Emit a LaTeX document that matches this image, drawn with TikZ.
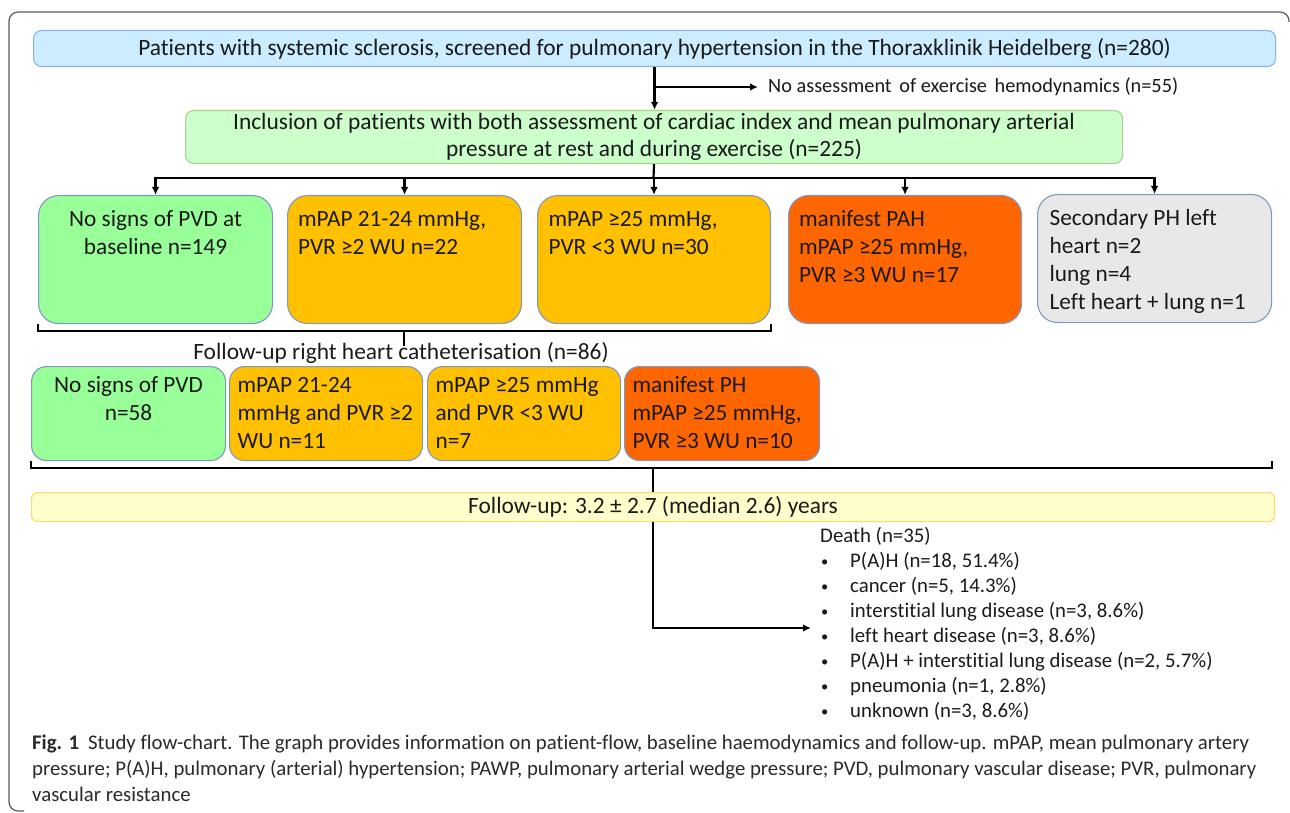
\documentclass[tikz,border=0pt]{standalone}
\usepackage{fontspec}
\setmainfont{Carlito}[Ligatures={NoCommon}]
\usetikzlibrary{arrows.meta,calc}
\definecolor{cblue}{HTML}{CCECFF}
\definecolor{cbluebd}{HTML}{8DB3E2}
\definecolor{clgreen}{HTML}{CCFFCC}
\definecolor{clgreenbd}{HTML}{A9D18E}
\definecolor{cgreen}{HTML}{99FF99}
\definecolor{camber}{HTML}{FFC000}
\definecolor{corange}{HTML}{FF6600}
\definecolor{cgray}{HTML}{E8E8E8}
\definecolor{cyel}{HTML}{FFFFCC}
\definecolor{cyelbd}{HTML}{FFD966}
\definecolor{cbd}{HTML}{7F98C4}
\definecolor{cframe}{HTML}{5A5A5A}
\definecolor{ctext}{HTML}{1A1A1A}
\definecolor{ccap}{HTML}{2A2A2A}
\newcommand{\bxt}[4]{\begin{minipage}[c][#2][t]{#1}#3\rule{0pt}{#4}\ignorespaces}
\newcommand{\bxe}{\end{minipage}}
\newcommand{\lline}[1]{\mbox{#1}\\}
\newcommand{\bul}{\hspace*{1pt}\makebox[29pt][l]{\raisebox{1pt}{\scalebox{0.7}{•}}}}
\begin{document}
\begin{tikzpicture}[x=1pt,y=-1pt,
  every node/.style={text=ctext},
  rbox/.style={draw=cbd, line width=1.1pt, inner sep=0pt, anchor=north west,
     font=\fontsize{23.3}{28}\selectfont},
  arr/.style={line width=2.2pt, -{Latex[length=8pt,width=7.5pt]}},
  conn/.style={line width=2.2pt},
  brk/.style={line width=2.6pt},
]
\useasboundingbox (0,0) rectangle (1290,813);
% frame
\draw[cframe, line width=1.2pt, rounded corners=9pt] (1289,22) -- (1289,12) -- (9,12) -- (9,811) -- (24,811);

% top boxes
\node[draw=cbluebd, fill=cblue, line width=1.1pt, rounded corners=8pt, minimum width=1242pt, minimum height=36pt, inner sep=0pt, anchor=north west, font=\fontsize{23.4}{27}\selectfont] (b1) at (33,30) {Patients with systemic sclerosis, screened for pulmonary hypertension in the Thoraxklinik Heidelberg (n=280)};
\node[draw=clgreenbd, fill=clgreen, line width=1.1pt, rounded corners=8pt, minimum width=937pt, minimum height=53pt, inner sep=0pt, anchor=north west, align=center, font=\fontsize{23.4}{27}\selectfont] (b2) at (185,110) {Inclusion of patients with both assessment of cardiac index and mean pulmonary arterial\\pressure at rest and during exercise (n=225)};
\node[anchor=west, inner sep=0pt, font=\fontsize{20.3}{22}\selectfont] (noass) at (768,87) {No assessment\hspace{3pt} of exercise\hspace{3pt} hemodynamics (n=55)};

% row 1
\node[rbox, fill=cgreen, rounded corners=20pt, minimum width=234pt, minimum height=128pt] (A) at (38,195)
 {\bxt{214pt}{128pt}{\centering}{31pt}No signs of PVD at\\baseline n=149\bxe};
\node[rbox, fill=camber, rounded corners=20pt, minimum width=234pt, minimum height=128pt] (B) at (287,195)
 {\bxt{213pt}{128pt}{\raggedright}{31pt}\lline{mPAP 21-24 mmHg,}\mbox{PVR ≥2 WU n=22}\bxe};
\node[rbox, fill=camber, rounded corners=20pt, minimum width=233pt, minimum height=128pt] (C) at (537,195)
 {\bxt{211pt}{128pt}{\raggedright}{31pt}\lline{mPAP ≥25 mmHg,}\mbox{PVR <3 WU n=30}\bxe};
\node[rbox, fill=corange, rounded corners=20pt, minimum width=233pt, minimum height=128pt] (D) at (788,195)
 {\bxt{212pt}{128pt}{\raggedright}{31pt}\lline{manifest PAH}\lline{mPAP ≥25 mmHg,}\mbox{PVR ≥3 WU n=17}\bxe};
\node[rbox, fill=cgray, rounded corners=20pt, minimum width=234pt, minimum height=128pt] (E) at (1037,194)
 {\bxt{210pt}{128pt}{\raggedright}{31pt}\lline{Secondary PH left}\lline{heart n=2}\lline{lung n=4}\mbox{Left heart + lung n=1}\bxe};

% distribution
\coordinate (bar) at (653.5,178);
\coordinate (brn) at (653.5,87);
\draw[arr] (brn) -- ($(noass.west)+(-10,0)$);
\draw[arr] (b1.south) -- (b1.south |- b2.north);
\draw[conn] (b2.south) -- (bar);
\draw[conn] ($(A.north |- bar)+(-1.1,0)$) -- ($(E.north |- bar)+(1.1,0)$);
\foreach \n in {A,B,C,D,E} \draw[arr] (\n.north |- bar) -- (\n.north);

% bracket 1
\draw[brk] (A.south west) -- ++(0,7) coordinate (k1) -- (k1 -| C.south east) -- (C.south east);
\coordinate (s1) at (404,330);
\node[anchor=base, inner sep=0pt, font=\fontsize{23.4}{26}\selectfont] (fu) at (401,359) {Follow-up right heart catheterisation (n=86)};
\draw[conn, line width=2pt] (s1) -- (404,346);

% row 2
\node[rbox, fill=cgreen, rounded corners=15pt, minimum width=194pt, minimum height=94pt] (a) at (31,366)
 {\bxt{180pt}{94pt}{\centering}{26pt}No signs of PVD\\n=58\bxe};
\node[rbox, fill=camber, rounded corners=15pt, minimum width=193pt, minimum height=94pt] (b) at (229,366)
 {\bxt{177pt}{94pt}{\raggedright}{26pt}\lline{mPAP 21-24}\lline{mmHg and PVR ≥2}\mbox{WU n=11}\bxe};
\node[rbox, fill=camber, rounded corners=15pt, minimum width=193pt, minimum height=94pt] (c) at (427,366)
 {\bxt{177pt}{94pt}{\raggedright}{26pt}\lline{mPAP ≥25 mmHg}\lline{and PVR <3 WU}\mbox{n=7}\bxe};
\node[rbox, fill=corange, rounded corners=15pt, minimum width=195pt, minimum height=94pt] (d) at (624,366)
 {\bxt{179pt}{94pt}{\raggedright}{26pt}\lline{manifest PH}\lline{mPAP ≥25 mmHg,}\mbox{PVR ≥3 WU n=10}\bxe};

% bracket 2
\draw[brk] (a.south west) -- ++(0,7) coordinate (k2) -- (k2 -| E.south east) -- ++(0,-7);

% follow-up box
\node[draw=cyelbd, fill=cyel, line width=1.1pt, rounded corners=6pt, minimum width=1243pt, minimum height=29pt, inner sep=0pt, anchor=north west, font=\fontsize{23.4}{26}\selectfont] (b3) at (31,492) {Follow-up: 3.2 ± 2.7 (median 2.6) years};
\draw[conn] (b3.north |- k2) -- (b3.north);

% death list (base anchor = last line baseline)
\node[anchor=base west, inner sep=0pt, align=left, font=\fontsize{20.8}{25}\selectfont] (death) at (820,717)
 {Death (n=35)\\
  \bul P(A)H (n=18, 51.4\%)\\
  \bul cancer (n=5, 14.3\%)\\
  \bul interstitial lung disease (n=3, 8.6\%)\\
  \bul left heart disease (n=3, 8.6\%)\\
  \bul P(A)H + interstitial lung disease (n=2, 5.7\%)\\
  \bul pneumonia (n=1, 2.8\%)\\
  \bul unknown (n=3, 8.6\%)};
\coordinate (dt) at (811,628);
\draw[arr] (b3.south) |- (dt);

% caption (base anchor = last line baseline)
\node[anchor=base west, inner sep=0pt, align=left, text=ccap, font=\fontsize{20.8}{26}\selectfont] (cap) at (32,801)
 {\textbf{Fig. 1}\hspace{9pt}Study flow-chart. The graph provides information on patient-flow, baseline haemodynamics and follow-up. mPAP, mean pulmonary artery\\
 pressure; P(A)H, pulmonary (arterial) hypertension; PAWP, pulmonary arterial wedge pressure; PVD, pulmonary vascular disease; PVR, pulmonary\\
 vascular resistance};
\end{tikzpicture}
\end{document}
